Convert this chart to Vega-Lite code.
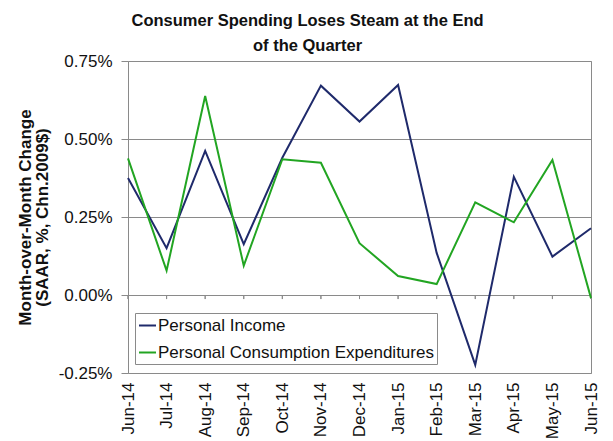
{
  "$schema": "https://vega.github.io/schema/vega-lite/v6.json",
  "width": 463,
  "height": 312,
  "autosize": {"type": "none"},
  "padding": {"left": 128, "top": 61, "right": 22, "bottom": 68},
  "background": "white",
  "title": {
    "text": ["Consumer Spending Loses Steam at the End", "of the Quarter"],
    "font": "Liberation Sans",
    "fontSize": 16.5,
    "fontWeight": "bold",
    "color": "#111111",
    "anchor": "middle",
    "frame": "bounds",
    "lineHeight": 25,
    "offset": -2
  },
  "config": {
    "font": "Liberation Sans",
    "view": {"stroke": "#8a8a8a", "strokeWidth": 1}
  },
  "data": {
    "values": [
      {"month": "Jun-14", "series": "Personal Income", "value": 0.375},
      {"month": "Jul-14", "series": "Personal Income", "value": 0.150},
      {"month": "Aug-14", "series": "Personal Income", "value": 0.462},
      {"month": "Sep-14", "series": "Personal Income", "value": 0.163},
      {"month": "Oct-14", "series": "Personal Income", "value": 0.440},
      {"month": "Nov-14", "series": "Personal Income", "value": 0.671},
      {"month": "Dec-14", "series": "Personal Income", "value": 0.556},
      {"month": "Jan-15", "series": "Personal Income", "value": 0.673},
      {"month": "Feb-15", "series": "Personal Income", "value": 0.135},
      {"month": "Mar-15", "series": "Personal Income", "value": -0.224},
      {"month": "Apr-15", "series": "Personal Income", "value": 0.379},
      {"month": "May-15", "series": "Personal Income", "value": 0.123},
      {"month": "Jun-15", "series": "Personal Income", "value": 0.214},
      {"month": "Jun-14", "series": "Personal Consumption Expenditures", "value": 0.438},
      {"month": "Jul-14", "series": "Personal Consumption Expenditures", "value": 0.078},
      {"month": "Aug-14", "series": "Personal Consumption Expenditures", "value": 0.638},
      {"month": "Sep-14", "series": "Personal Consumption Expenditures", "value": 0.094},
      {"month": "Oct-14", "series": "Personal Consumption Expenditures", "value": 0.435},
      {"month": "Nov-14", "series": "Personal Consumption Expenditures", "value": 0.424},
      {"month": "Dec-14", "series": "Personal Consumption Expenditures", "value": 0.166},
      {"month": "Jan-15", "series": "Personal Consumption Expenditures", "value": 0.061},
      {"month": "Feb-15", "series": "Personal Consumption Expenditures", "value": 0.035},
      {"month": "Mar-15", "series": "Personal Consumption Expenditures", "value": 0.297},
      {"month": "Apr-15", "series": "Personal Consumption Expenditures", "value": 0.233},
      {"month": "May-15", "series": "Personal Consumption Expenditures", "value": 0.433},
      {"month": "Jun-15", "series": "Personal Consumption Expenditures", "value": -0.01}
    ]
  },
  "encoding": {
    "x": {
      "field": "month",
      "type": "ordinal",
      "sort": null,
      "scale": {"type": "point", "padding": 0},
      "axis": {
        "title": null,
        "domain": false,
        "ticks": false,
        "labelAngle": -90,
        "labelFontSize": 17,
        "labelColor": "#111111",
        "labelPadding": 9
      }
    }
  },
  "layer": [
    {
      "mark": {"type": "rule", "color": "#8a8a8a", "strokeWidth": 1},
      "encoding": {
        "y": {"datum": 0, "type": "quantitative", "scale": {"domain": [-0.25, 0.75]}},
        "y2": {"datum": -0.013}
      }
    },
    {
      "mark": {"type": "line", "strokeWidth": 2},
      "encoding": {
        "y": {
          "field": "value",
          "type": "quantitative",
          "scale": {"domain": [-0.25, 0.75], "nice": false, "zero": false},
          "axis": {
            "title": ["Month-over-Month Change", "(SAAR, %, Chn.2009$)"],
            "titleFontSize": 17,
            "titleFontWeight": "bold",
            "titleColor": "#111111",
            "titleLineHeight": 17,
            "titlePadding": 7,
            "values": [-0.25, 0, 0.25, 0.5, 0.75],
            "labelExpr": "replace(format(datum.value, '.2f'), '\u2212', '-') + '%'",
            "labelFontSize": 17,
            "labelColor": "#111111",
            "labelPadding": 9,
            "domain": false,
            "tickColor": "#8a8a8a",
            "tickSize": 7,
            "grid": true,
            "gridColor": "#8a8a8a",
            "gridWidth": 1
          }
        },
        "color": {
          "field": "series",
          "type": "nominal",
          "sort": ["Personal Income", "Personal Consumption Expenditures"],
          "scale": {
            "domain": ["Personal Income", "Personal Consumption Expenditures"],
            "range": ["#1f2a6b", "#22a522"]
          },
          "legend": {
            "title": null,
            "orient": "none",
            "legendX": 7,
            "legendY": 252,
            "symbolType": "stroke",
            "symbolStrokeWidth": 2,
            "symbolSize": 289,
            "labelFontSize": 17,
            "labelLimit": 0,
            "labelColor": "#111111",
            "labelOffset": 1,
            "rowPadding": 9,
            "padding": 3,
            "strokeColor": "#8a8a8a",
            "fillColor": "white"
          }
        }
      }
    }
  ]
}
